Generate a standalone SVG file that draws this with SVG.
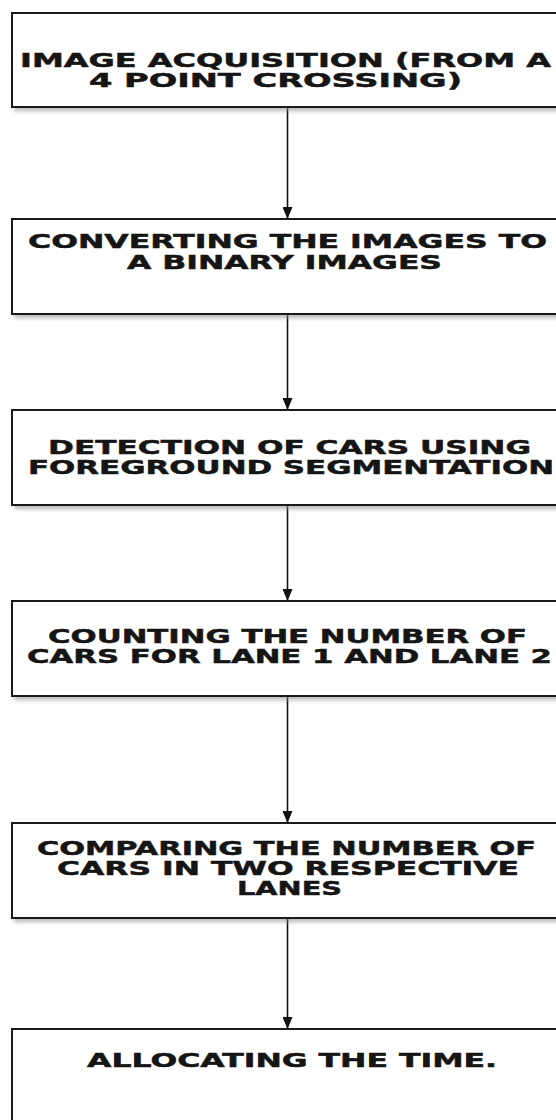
<svg xmlns="http://www.w3.org/2000/svg" width="556" height="1120" viewBox="0 0 556 1120">
<style>
.box{fill:#ffffff;stroke:#1a1a1a;stroke-width:2}
.sh{fill:#8a8a8a;opacity:0.6}
.t{font-family:"DejaVu Sans",Verdana,sans-serif;font-weight:bold;font-size:20px;fill:#151515;stroke:#151515;stroke-width:0.5}
.c{stroke:#111;stroke-width:1.6;fill:none}
.csh{stroke:#cfcfcf;stroke-width:3;fill:none}
</style>
<defs>
<filter id="blur" x="-10%" y="-50%" width="120%" height="200%"><feGaussianBlur stdDeviation="2"/></filter>
<marker id="arr" viewBox="0 0 12 10" refX="12" refY="5" markerWidth="12" markerHeight="10" markerUnits="userSpaceOnUse" orient="auto"><path d="M0,0 L12,5 L0,10 Z" fill="#111"/></marker>
</defs>
<rect width="556" height="1120" fill="#ffffff"/>
<g id="connectors">
<g filter="url(#blur)">
<line class="csh" x1="291" y1="110" x2="291" y2="217"/>
<line class="csh" x1="291" y1="317" x2="291" y2="408"/>
<line class="csh" x1="291" y1="508" x2="291" y2="599"/>
<line class="csh" x1="291" y1="699" x2="291" y2="821"/>
<line class="csh" x1="291" y1="921" x2="291" y2="1027"/>
</g>
<line class="c" x1="287.5" y1="107" x2="287.5" y2="219" marker-end="url(#arr)"/>
<line class="c" x1="287.5" y1="314" x2="287.5" y2="410" marker-end="url(#arr)"/>
<line class="c" x1="287.5" y1="505" x2="287.5" y2="601" marker-end="url(#arr)"/>
<line class="c" x1="287.5" y1="696" x2="287.5" y2="823" marker-end="url(#arr)"/>
<line class="c" x1="287.5" y1="918" x2="287.5" y2="1029" marker-end="url(#arr)"/>
</g>
<g id="n1">
<rect class="sh" x="14" y="16" width="560" height="95" filter="url(#blur)"/>
<rect class="box" x="12" y="13" width="560" height="94"/>
<text class="t" x="20" y="67" textLength="531" lengthAdjust="spacingAndGlyphs">IMAGE ACQUISITION (FROM A</text>
<text class="t" x="89" y="87" textLength="373" lengthAdjust="spacingAndGlyphs">4 POINT CROSSING)</text>
</g>
<g id="n2">
<rect class="sh" x="14" y="222" width="560" height="96" filter="url(#blur)"/>
<rect class="box" x="12" y="219" width="560" height="95"/>
<text class="t" x="28" y="248" textLength="519" lengthAdjust="spacingAndGlyphs">CONVERTING THE IMAGES TO</text>
<text class="t" x="127" y="269" textLength="315" lengthAdjust="spacingAndGlyphs">A BINARY IMAGES</text>
</g>
<g id="n3">
<rect class="sh" x="14" y="413" width="560" height="96" filter="url(#blur)"/>
<rect class="box" x="12" y="410" width="560" height="95"/>
<text class="t" x="48" y="454" textLength="483" lengthAdjust="spacingAndGlyphs">DETECTION OF CARS USING</text>
<text class="t" x="28" y="474" textLength="526" lengthAdjust="spacingAndGlyphs">FOREGROUND SEGMENTATION</text>
</g>
<g id="n4">
<rect class="sh" x="14" y="604" width="560" height="96" filter="url(#blur)"/>
<rect class="box" x="12" y="601" width="560" height="95"/>
<text class="t" x="48" y="643" textLength="479" lengthAdjust="spacingAndGlyphs">COUNTING THE NUMBER OF</text>
<text class="t" x="27" y="663" textLength="525" lengthAdjust="spacingAndGlyphs">CARS FOR LANE 1 AND LANE 2</text>
</g>
<g id="n5">
<rect class="sh" x="14" y="826" width="560" height="96" filter="url(#blur)"/>
<rect class="box" x="12" y="823" width="560" height="95"/>
<text class="t" x="37" y="855" textLength="499" lengthAdjust="spacingAndGlyphs">COMPARING THE NUMBER OF</text>
<text class="t" x="57" y="875" textLength="462" lengthAdjust="spacingAndGlyphs">CARS IN TWO RESPECTIVE</text>
<text class="t" x="237" y="895" textLength="105" lengthAdjust="spacingAndGlyphs">LANES</text>
</g>
<g id="n6">
<rect class="box" x="12" y="1029" width="560" height="120"/>
<text class="t" x="87" y="1067" textLength="410" lengthAdjust="spacingAndGlyphs">ALLOCATING THE TIME.</text>
</g>
</svg>
